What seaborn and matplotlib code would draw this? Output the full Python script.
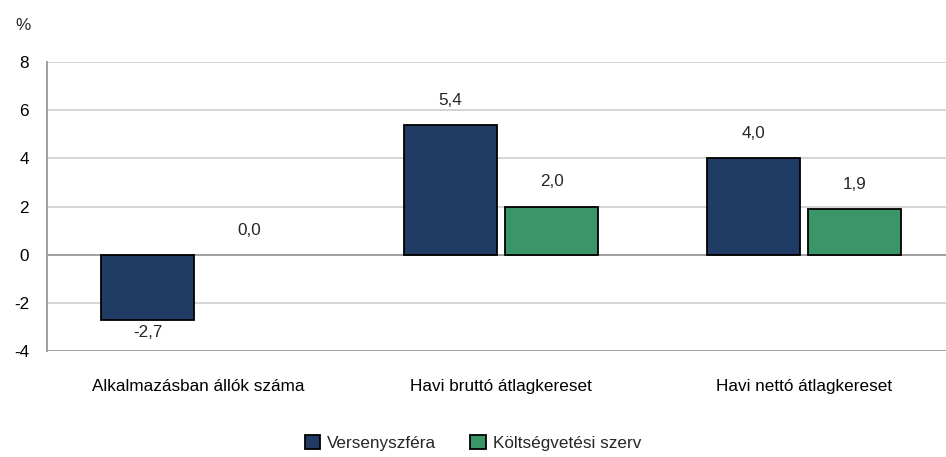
import matplotlib
matplotlib.use("Agg")
import matplotlib.pyplot as plt
import seaborn as sns
import pandas as pd
from matplotlib import font_manager

categories = ["Alkalmazásban állók száma", "Havi bruttó átlagkereset", "Havi nettó átlagkereset"]
series_names = ["Versenyszféra", "Költségvetési szerv"]
verseny = [-2.7, 5.4, 4.0]
koltseg = [0.0, 2.0, 1.9]
yticks = [-4, -2, 0, 2, 4, 6, 8]
colors = ["#213C64", "#3A9669"]

df = pd.DataFrame({
    "cat": categories * 2,
    "series": [series_names[0]] * 3 + [series_names[1]] * 3,
    "value": verseny + koltseg,
})

sns.set_theme(style="white")
names = {f.name for f in font_manager.fontManager.ttflist}
fam = "Liberation Sans Narrow" if "Liberation Sans Narrow" in names else "Liberation Sans"
plt.rcParams["font.family"] = [fam, "DejaVu Sans"]
FS = 12.3

W, H = 946, 457
fig = plt.figure(figsize=(W / 100, H / 100), dpi=100)
ax = fig.add_axes([47 / W, (H - 351) / H, (W - 47) / W, (351 - 62) / H])

sns.barplot(data=df, x="cat", y="value", hue="series", palette=colors,
            saturation=1, width=0.667, gap=0.08, edgecolor="black", linewidth=1.3,
            ax=ax, legend=True, zorder=3)

ax.set_ylim(-4, 8)
ax.set_xlim(-0.5, 2.47)
ax.set_yticks(yticks)
ax.set_yticklabels([str(t) for t in yticks], fontsize=FS, color="black")
ax.set_xlabel("")
ax.set_ylabel("")
ax.tick_params(axis="x", length=0, pad=20, labelsize=FS, labelcolor="black")
ax.tick_params(axis="y", length=7, width=1.2, color="#A0A0A0", direction="out", pad=6)
for t in yticks:
    ax.axhline(t, color="#A0A0A0" if t in (0, -4) else "#D4D4D4", lw=1.4, zorder=1)
for s in ["top", "right", "bottom"]:
    ax.spines[s].set_visible(False)
ax.spines["left"].set_color("#A0A0A0")
ax.spines["left"].set_linewidth(1.4)

for cont in ax.containers:
    for bar in cont:
        v = bar.get_height() if bar.get_y() >= 0 else bar.get_y()
        if v == 0:
            bar.set_linewidth(0)
        x = bar.get_x() + bar.get_width() / 2
        label = f"{v:.1f}".replace(".", ",")
        if v >= 0:
            ax.annotate(label, (x, v), xytext=(0, 17), textcoords="offset pixels",
                        ha="center", va="bottom", fontsize=FS)
        else:
            ax.annotate(label, (x, v), xytext=(0, -5), textcoords="offset pixels",
                        ha="center", va="top", fontsize=FS)

fig.text(15 / W, 1 - 26 / H, "%", fontsize=FS, va="center", ha="left")

handles, labels = ax.get_legend_handles_labels()
ax.legend_.remove()
fig.legend(handles, labels, loc="center", bbox_to_anchor=(0.5, 1 - 443 / H), ncol=2,
           frameon=False, fontsize=FS, handlelength=0.9, handleheight=0.9,
           handletextpad=0.4, columnspacing=2.0)

fig.savefig("out.png", dpi=100)
